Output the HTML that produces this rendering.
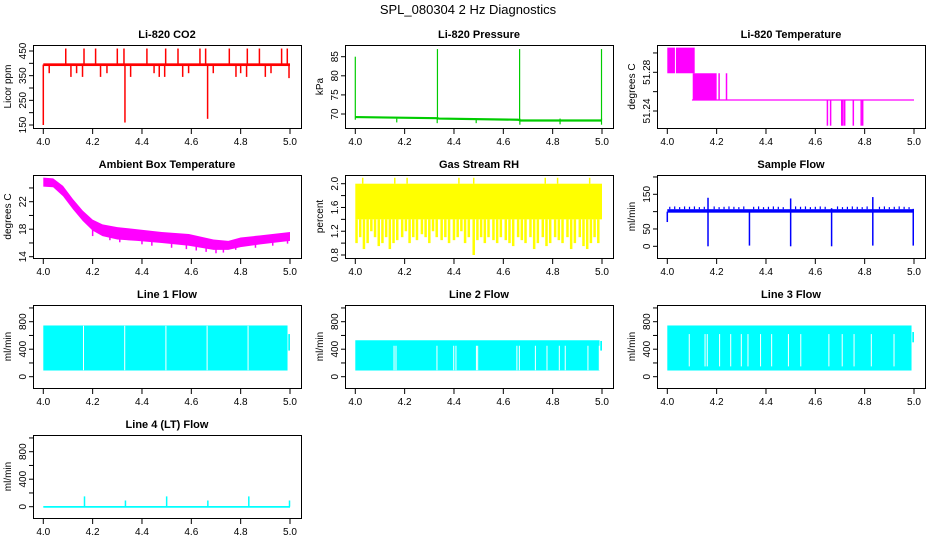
<!DOCTYPE html>
<html><head><meta charset="utf-8"><style>
body{margin:0;background:#fff;}
svg{display:block;font-family:"Liberation Sans",sans-serif;}
</style></head><body>
<svg id="c" width="936" height="540" xmlns="http://www.w3.org/2000/svg">
<text x="468" y="14" font-size="13" text-anchor="middle">SPL_080304  2 Hz Diagnostics</text>
</svg>
<script>
// ---- data ----
const xTicks=[4.0,4.2,4.4,4.6,4.8,5.0];
const xTickLabels=["4.0","4.2","4.4","4.6","4.8","5.0"];
// CO2
const co2Base=395;
const co2SpikeT=[4.091,4.165,4.212,4.300,4.327,4.420,4.496,4.546,4.635,4.658,4.754,4.827,4.876,4.966,4.989,
 4.024,4.112,4.135,4.159,4.232,4.258,4.354,4.449,4.470,4.492,4.565,4.589,4.689,4.781,4.800,4.824,4.900,4.923,4.996,
 4.0,4.331,4.666];
const co2SpikeV=[460,460,460,460,460,460,460,460,460,460,460,460,460,460,460,
 360,345,360,345,345,360,345,360,345,345,345,360,360,345,360,345,345,360,340,
 150,160,175];
// Pressure
const pressBaseT=[4.0,4.33,4.34,4.66,4.67,5.0];
const pressBaseV=[69.2,68.9,68.8,68.5,68.3,68.3];
const pressSpikeT=[4.0,4.333,4.666,4.998];
const pressSpikeV=[85,87,87,87];
const pressDipT=[4.168,4.332,4.49,4.667,4.83,4.998];
const pressDipV=[67.8,67.6,67.6,67.2,67.3,67.2];
// Li-820 temperature
const ltBlockT0=[4.0,4.035,4.103];
const ltBlockT1=[4.031,4.111,4.2];
const ltBlockLo=[51.279,51.279,51.2514];
const ltBlockHi=[51.3055,51.3055,51.279];
const ltBase=51.2514;
const ltUpT=[4.21,4.24];
const ltUpV=[51.279,51.279];
const ltDownT=[4.649,4.662,4.707,4.712,4.719,4.754,4.786,4.792];
const ltDownV=[51.2248,51.2248,51.2248,51.2248,51.2248,51.2248,51.2248,51.2248];
// Ambient box temp
const ambT=[4.0,4.04,4.08,4.12,4.16,4.2,4.24,4.3,4.38,4.48,4.59,4.69,4.75,4.8,4.88,5.0];
const ambHi=[25.5,25.4,24.3,22.4,20.7,19.4,18.7,18.3,18.0,17.6,17.3,16.5,16.3,16.8,17.1,17.6];
const ambLo=[24.2,24.1,22.8,20.9,19.2,17.8,17.0,16.5,16.3,16.0,15.6,15.0,15.0,15.4,15.8,16.3];
const ambDipT=[4.2,4.27,4.31,4.4,4.44,4.52,4.58,4.62,4.66,4.7,4.73,4.78,4.86,4.93,4.99];
const ambDipV=[17.0,16.4,16.1,15.8,15.6,15.3,15.1,14.9,14.7,14.5,14.6,15.0,15.3,15.6,15.9];
// Gas stream RH
const rhBandLo=1.4, rhBandHi=2.0;
const rhLowT=[4.005,4.02,4.035,4.05,4.065,4.08,4.095,4.11,4.125,4.14,4.155,4.17,4.19,4.205,4.22,4.235,4.25,4.27,4.285,4.3,4.315,4.33,4.35,4.365,4.38,4.4,4.415,4.43,4.445,4.46,4.48,4.495,4.51,4.525,4.54,4.56,4.575,4.59,4.61,4.625,4.64,4.66,4.675,4.69,4.71,4.725,4.74,4.76,4.775,4.79,4.81,4.825,4.84,4.86,4.875,4.89,4.91,4.925,4.94,4.955,4.97,4.985];
const rhLowV=[1.0,1.1,0.9,1.0,1.2,1.1,0.95,1.0,1.1,0.9,1.0,1.05,1.1,1.2,1.0,1.1,1.05,1.15,1.1,1.0,1.2,1.1,1.05,1.1,1.0,1.05,1.1,1.2,1.0,1.1,0.8,1.05,1.1,1.0,1.1,1.05,1.0,1.1,1.05,1.0,0.95,1.1,1.05,1.0,1.1,0.9,1.0,1.1,0.95,1.0,1.1,1.05,1.0,1.1,0.9,1.0,1.1,0.95,0.9,1.0,1.1,1.0];
const rhHighT=[4.03,4.16,4.21,4.42,4.48,4.77,4.82,4.95];
const rhHighV=[2.1,2.1,2.1,2.1,2.1,2.1,2.1,2.1];
// Sample flow
const sfBandLo=97, sfBandHi=107;
const sfUpT=[4.01,4.03,4.05,4.07,4.09,4.11,4.13,4.15,4.19,4.21,4.23,4.25,4.27,4.29,4.31,4.35,4.37,4.39,4.41,4.43,4.45,4.47,4.52,4.54,4.56,4.58,4.6,4.62,4.64,4.69,4.71,4.73,4.75,4.77,4.79,4.81,4.86,4.88,4.9,4.92,4.94,4.96,4.98];
const sfUpV=[114,115,113,115,114,115,113,114,115,113,114,115,114,113,115,114,115,113,114,115,114,113,115,114,115,113,114,115,114,115,113,114,115,114,113,115,114,115,113,114,115,114,113];
const sfEventT=[4.165,4.333,4.5,4.666,4.833,4.997];
const sfEventHi=[140,105,138,110,142,108];
const sfEventLo=[0,2,0,0,2,2];
// Line flows
const l1Lo=90, l1Hi=745;
const l1GapT=[4.163,4.33,4.497,4.664,4.83];
const l1EndLo=380, l1EndHi=620;
const l2Lo=90, l2Hi=530;
const l2GapT=[4.157,4.165,4.331,4.399,4.408,4.491,4.496,4.655,4.665,4.730,4.777,4.827,4.851,4.943,4.989];
const l2EndLo=380, l2EndHi=520;
const l3Lo=90, l3Hi=745;
const l3GapT=[4.089,4.153,4.162,4.212,4.257,4.300,4.327,4.378,4.423,4.491,4.541,4.655,4.709,4.757,4.827,4.919];
const l3EndLo=500, l3EndHi=650;
const l4Lo=-15, l4Hi=10;
const l4SpikeT=[4.167,4.333,4.5,4.667,4.833,4.998];
const l4SpikeV=[150,90,150,90,150,90];

// ---- drawing ----
const svg=document.getElementById('c');
const NS='http://www.w3.org/2000/svg';
function mk(tag,attrs,parent){const e=document.createElementNS(NS,tag);for(const k in attrs)e.setAttribute(k,attrs[k]);(parent||svg).appendChild(e);return e;}

function panel(col,row,name,title,ylab,v1,y1,v2,y2,ticks,labels){
  const ox=col*312, oy=row*130;
  const g=mk('g',{});
  
  
  const sx=t=>ox+43.3+(t-4)*246.7;
  const sy=v=>oy+y1+(v-v1)*(y2-y1)/(v2-v1);
  const t=mk('text',{x:ox+167,y:oy+38,'font-size':11,'font-weight':'bold','text-anchor':'middle'},g);
  t.textContent=title;
  
  
  const data=mk('g',{},g);
  
  
  const box=mk('rect',{x:ox+33.5,y:oy+45.5,width:268,height:83,fill:'none',stroke:'#000','stroke-width':1},g);
  
  
  const xa=mk('g',{},g);
  
  
  xTicks.forEach((v,i)=>{
    const x=sx(v);
    mk('line',{x1:x,x2:x,y1:oy+128,y2:oy+134,stroke:'#000'},xa);
    const l=mk('text',{x:x,y:oy+145,'font-size':10,'text-anchor':'middle'},xa);
    l.textContent=xTickLabels[i];
  });
  const ya=mk('g',{},g);
  
  
  ticks.forEach(v=>{
    const y=sy(v);
    mk('line',{x1:ox+29,x2:ox+33.5,y1:y,y2:y,stroke:'#000'},ya);
  });
  labels.forEach(lb=>{
    const y=sy(parseFloat(lb));
    const l=mk('text',{x:0,y:0,'font-size':10,'text-anchor':'middle',transform:`translate(${ox+26},${y}) rotate(-90)`},ya);
    l.textContent=lb;
  });
  const yl=mk('text',{x:0,y:0,'font-size':10,'text-anchor':'middle',transform:`translate(${ox+11},${oy+86.5}) rotate(-90)`},g);
  yl.textContent=ylab;
  
  
  return {sx,sy,g:data};
}
function vline(p,t,a,b,col,w){return mk('line',{x1:p.sx(t),x2:p.sx(t),y1:p.sy(a),y2:p.sy(b),stroke:col,'stroke-width':w||1.5},p.g);}
function band(p,t0,t1,lo,hi,col){const x0=p.sx(t0),x1=p.sx(t1),ya=p.sy(hi),yb=p.sy(lo);return mk('rect',{x:x0,y:Math.min(ya,yb),width:x1-x0,height:Math.abs(yb-ya),fill:col},p.g);}

// CO2
{const p=panel(0,0,'co2','Li-820 CO2','Licor ppm',150,125,450,51,[150,200,250,300,350,400,450],['150','250','350','450']);
 band(p,4.0,5.0,co2Base-6,co2Base+5,'#ff0000');
 co2SpikeT.forEach((t,i)=>vline(p,t,co2Base,co2SpikeV[i],'#ff0000',1.5));}
// Pressure
{const p=panel(1,0,'pressure','Li-820 Pressure','kPa',70,114,85,56.7,[70,75,80,85],['70','75','80','85']);
 const pts=pressBaseT.map((t,i)=>p.sx(t)+','+p.sy(pressBaseV[i])).join(' ');
 mk('polyline',{points:pts,fill:'none',stroke:'#00cc00','stroke-width':2.2},p.g);
 pressSpikeT.forEach((t,i)=>vline(p,t,68.5,pressSpikeV[i],'#00cc00',1.2));
 pressDipT.forEach((t,i)=>vline(p,t,68.8,pressDipV[i],'#00cc00',1.2));}
// Li-820 temperature
{const p=panel(2,0,'li820-temperature','Li-820 Temperature','degrees C',51.24,111,51.28,72.3,[51.24,51.26,51.28,51.30],['51.24','51.28']);
 ltBlockT0.forEach((t,i)=>band(p,t,ltBlockT1[i],ltBlockLo[i],ltBlockHi[i],'#ff00ff'));
 mk('line',{x1:p.sx(4.1),x2:p.sx(5.0),y1:p.sy(ltBase),y2:p.sy(ltBase),stroke:'#ff00ff','stroke-width':1.2},p.g);
 ltUpT.forEach((t,i)=>vline(p,t,ltBase,ltUpV[i],'#ff00ff',1.5));
 ltDownT.forEach((t,i)=>vline(p,t,ltBase,ltDownV[i],'#ff00ff',1.5));}
// Ambient
{const p=panel(0,1,'ambient-temperature','Ambient Box Temperature','degrees C',14,126.7,22,71.7,[14,16,18,20,22,24],['14','18','22']);
 const top=ambT.map((t,i)=>p.sx(t)+','+p.sy(ambHi[i]));
 const bot=ambT.map((t,i)=>p.sx(t)+','+p.sy(ambLo[i])).reverse();
 mk('polygon',{points:top.concat(bot).join(' '),fill:'#ff00ff'},p.g);
 ambDipT.forEach((t,i)=>vline(p,t,ambDipV[i]+1,ambDipV[i],'#ff00ff',1.5));}
// RH
{const p=panel(1,1,'gas-stream-rh','Gas Stream RH','percent',0.8,125,2.0,53.7,[0.8,1.0,1.2,1.4,1.6,1.8,2.0],['0.8','1.2','1.6','2.0']);
 band(p,4.0,5.0,rhBandLo,rhBandHi,'#ffff00');
 rhLowT.forEach((t,i)=>vline(p,t,rhBandLo,rhLowV[i],'#ffff00',2.5));
 rhHighT.forEach((t,i)=>vline(p,t,rhBandHi,rhHighV[i],'#ffff00',1.5));}
// Sample flow
{const p=panel(2,1,'sample-flow','Sample Flow','ml/min',0,116.3,150,64.3,[0,50,100,150,200],['0','50','150']);
 band(p,4.0,5.0,sfBandLo,sfBandHi,'#0000ff');
 sfUpT.forEach((t,i)=>vline(p,t,sfBandHi,sfUpV[i],'#0000ff',1.2));
 sfEventT.forEach((t,i)=>vline(p,t,sfEventLo[i],sfEventHi[i],'#0000ff',1.5));
 vline(p,4.0,100,70,'#0000ff',1.5);}
// Line flows
function linePanel(col,row,name,title,lo,hi,gaps,gLo,gHi,eLo,eHi){
 const p=panel(col,row,name,title,'ml/min',0,116.7,800,61.7,[0,200,400,600,800,1000],['0','400','800']);
 band(p,4.0,4.99,lo,hi,'#00ffff');
 gaps.forEach(t=>vline(p,t,gLo,gHi,'#ffffff',1));
 band(p,4.993,5.0,eLo,eHi,'#00ffff');
}
linePanel(0,2,'line-1-flow','Line 1 Flow',l1Lo,l1Hi,l1GapT,95,740,l1EndLo,l1EndHi);
linePanel(1,2,'line-2-flow','Line 2 Flow',l2Lo,l2Hi,l2GapT,95,450,l2EndLo,l2EndHi);
linePanel(2,2,'line-3-flow','Line 3 Flow',l3Lo,l3Hi,l3GapT,150,620,l3EndLo,l3EndHi);
{const p=panel(0,3,'line-4-flow','Line 4 (LT) Flow','ml/min',0,116.7,800,61.7,[0,200,400,600,800,1000],['0','400','800']);
 band(p,4.0,5.0,l4Lo,l4Hi,'#00ffff');
 l4SpikeT.forEach((t,i)=>vline(p,t,0,l4SpikeV[i],'#00ffff',1.5));}
</script>
</body></html>
